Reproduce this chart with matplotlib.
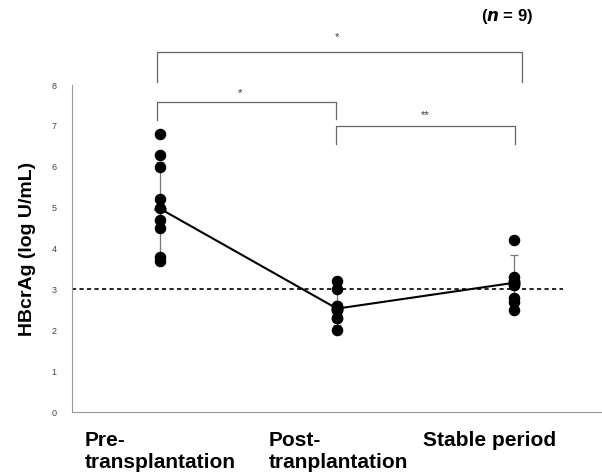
import matplotlib
matplotlib.use("Agg")
import matplotlib.pyplot as plt
import matplotlib.transforms as mtransforms
import numpy as np

plt.rcParams['font.family'] = ['Liberation Sans', 'DejaVu Sans']

# ---- data ----
categories = ["Pre-\ntransplantation", "Post-\ntranplantation", "Stable period"]
pre_values = [6.8, 6.3, 6.0, 5.2, 5.0, 4.7, 4.5, 3.8, 3.7]
post_values = [3.2, 3.0, 2.6, 2.6, 2.5, 2.5, 2.3, 2.3, 2.0]
stable_values = [4.2, 3.3, 3.2, 3.2, 3.1, 3.1, 2.8, 2.7, 2.5]
group_means = [4.97, 2.53, 3.16]
group_sd = [1.15, 0.40, 0.67]
cutoff = 3.0
y_ticks = [0, 1, 2, 3, 4, 5, 6, 7, 8]
brackets = [(1, 3, "*"), (1, 2, "*"), (2, 3, "**")]

fig = plt.figure(figsize=(6.02, 4.75), dpi=100)
ax = fig.add_axes([0.1196, 0.1326, 0.8804, 0.6884])

xpos = [1, 2, 3]
groups = [pre_values, post_values, stable_values]

# error bars
ax.errorbar(xpos, group_means, yerr=group_sd, fmt='none', ecolor='#777777',
            elinewidth=0.9, capsize=3, capthick=0.9, zorder=2)
# points
for x, vals in zip(xpos, groups):
    ax.plot([x] * len(vals), vals, 'o', color='black', markersize=7.3, zorder=3)
# mean line
ax.plot(xpos, group_means, '-', color='black', linewidth=1.5, zorder=4)
ax.plot(xpos, group_means, '_', color='black', markersize=9, mew=2, zorder=4)

# cutoff dashed line
ax.plot([0.5, 3.28], [cutoff, cutoff], linestyle=(0, (2.5, 2)), color='black',
        linewidth=1.2, zorder=1)

ax.set_xlim(0.5, 3.5)
ax.set_ylim(0, 8)
ax.set_yticks(y_ticks)
ax.set_yticklabels([str(t) for t in y_ticks], fontsize=6.5, color='#444444')
ax.tick_params(axis='y', length=0, pad=11)
ax.tick_params(axis='x', length=0, pad=14)
ax.set_xticks(xpos)
ax.set_xticklabels(categories, fontsize=15, fontweight='bold', ha='left',
                   linespacing=1.15, va='top')
offsets_px = [-76, -68, -91]
for lab, off in zip(ax.get_xticklabels(), offsets_px):
    lab.set_transform(lab.get_transform() +
                      mtransforms.ScaledTranslation(off / 100, 0, fig.dpi_scale_trans))

for s in ['top', 'right']:
    ax.spines[s].set_visible(False)
for s in ['left', 'bottom']:
    ax.spines[s].set_color('#999999')
    ax.spines[s].set_linewidth(0.8)

ax.set_ylabel("HBcrAg (log U/mL)", fontsize=14, fontweight='bold', labelpad=11)

# significance brackets (drawn above data area)
bracket_geom = [
    # (x_left, x_right, y_top, y_left_bottom, y_right_bottom, y_text, x_text)
    (0.983, 3.05, 8.82, 8.08, 8.08, 9.18, 2.0),
    (0.983, 1.994, 7.59, 7.15, 7.17, 7.80, 1.45),
    (1.994, 3.006, 7.00, 6.56, 6.56, 7.27, 2.5),
]
for (x1, x2, yt, yb1, yb2, ytx, xtx), (_, _, star) in zip(bracket_geom, brackets):
    ax.plot([x1, x1, x2, x2], [yb1, yt, yt, yb2], color='#666666', linewidth=0.9,
            clip_on=False, zorder=1)
    ax.text(xtx, ytx, star, ha='center', va='center', fontsize=8, color='#333333')

fig.text(0.843, 0.965, r"($\boldsymbol{n}$ = 9)", fontsize=12, fontweight='bold',
         ha='center', va='center')

fig.savefig("out.png", dpi=100)
